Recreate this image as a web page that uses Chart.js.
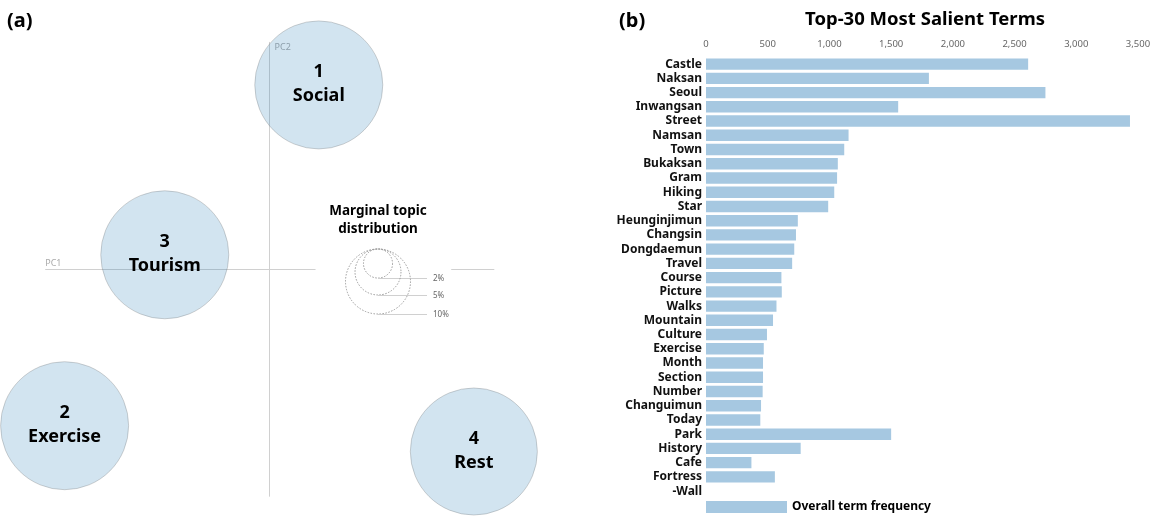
<!DOCTYPE html>
<html>
<head>
<meta charset="utf-8">
<script src="https://cdn.jsdelivr.net/npm/chart.js@4.4.0/dist/chart.umd.min.js"></script>
<style>
  html, body { margin: 0; padding: 0; background: #fff; }
  body { width: 1158px; height: 516px; position: relative; overflow: hidden; font-family: "Noto Sans", sans-serif; }
  #wrapA { position: absolute; left: 0; top: 0; width: 560px; height: 516px; }
  #wrapB { position: absolute; left: 600px; top: 0; width: 558px; height: 516px; }
  .panel { position: absolute; top: 6px; font-weight: bold; font-size: 20px; color: #000; }
</style>
</head>
<body>
<div id="wrapA"><canvas id="topicChart" width="560" height="516"></canvas></div>
<div id="wrapB"><canvas id="termChart" width="558" height="516"></canvas></div>
<div class="panel" style="left:7px">(a)</div>
<div class="panel" style="left:619px">(b)</div>
<script>
// ---- panel (a): intertopic distance map ----
const topicIds = ['1', '2', '3', '4'];
const topicNames = ['Social', 'Exercise', 'Tourism', 'Rest'];
const topicPC1 = [0.046, -0.190, -0.097, 0.190];
const topicPC2 = [0.171, -0.146, 0.013, -0.170];
const topicShare = [38.8, 38.8, 38.8, 38.2]; // marginal share (%) as drawn
const legendShares = [2, 5, 10];

// ---- panel (b): top-30 salient terms ----
const terms = ['Castle', 'Naksan', 'Seoul', 'Inwangsan', 'Street', 'Namsan', 'Town', 'Bukaksan',
  'Gram', 'Hiking', 'Star', 'Heunginjimun', 'Changsin', 'Dongdaemun', 'Travel', 'Course',
  'Picture', 'Walks', 'Mountain', 'Culture', 'Exercise', 'Month', 'Section', 'Number',
  'Changuimun', 'Today', 'Park', 'History', 'Cafe', 'Fortress-Wall'];
const termFreq = [2610, 1806, 2750, 1557, 3435, 1155, 1120, 1068,
  1062, 1039, 990, 744, 729, 715, 698, 611,
  614, 571, 543, 494, 468, 462, 462, 459,
  446, 440, 1500, 767, 368, 558];
const freqTicks = [0, 500, 1000, 1500, 2000, 2500, 3000, 3500];

const FONT = '"Noto Sans", sans-serif';
const barColor = '#a6c8e1';

// radius in px for a share in %, area proportional (10% -> 32.5px)
function shareToRadius(share) {
    return 32.5 * Math.sqrt(share / 10);
}

// wrap the hyphenated term so "Fortress" sits on the bar and "-Wall" below
function termLabel(t) {
    if (t.indexOf('-') > 0) {
        const parts = t.split('-');
        return ['', parts[0], '-' + parts[1]];
    }
    return t;
}

const topicDecor = {
    id: 'topicDecor',
    beforeDatasetsDraw(chart) {
        const ctx = chart.ctx;
        const x = chart.scales.x, y = chart.scales.y;
        const x0 = Math.round(x.getPixelForValue(0)) + 0.5;
        const y0 = Math.round(y.getPixelForValue(0)) + 0.5;
        ctx.save();
        ctx.strokeStyle = '#d0d0d0';
        ctx.lineWidth = 1;
        ctx.beginPath();
        // PC1 axis (broken where the size legend sits)
        ctx.moveTo(x.getPixelForValue(-0.208), y0);
        ctx.lineTo(x.getPixelForValue(0.043), y0);
        ctx.moveTo(x.getPixelForValue(0.169), y0);
        ctx.lineTo(x.getPixelForValue(0.209), y0);
        // PC2 axis
        ctx.moveTo(x0, y.getPixelForValue(0.211));
        ctx.lineTo(x0, y.getPixelForValue(-0.212));
        ctx.stroke();

        ctx.fillStyle = '#aaaaaa';
        ctx.font = '9px ' + FONT;
        ctx.textBaseline = 'middle';
        ctx.textAlign = 'left';
        ctx.fillText('PC1', x.getPixelForValue(-0.208), y0 - 6);
        ctx.fillText('PC2', x0 + 5, y.getPixelForValue(0.206));
        ctx.restore();
    },
    afterDatasetsDraw(chart) {
        const ctx = chart.ctx;
        const meta = chart.getDatasetMeta(0);
        ctx.save();
        ctx.fillStyle = '#000';
        ctx.textAlign = 'center';
        ctx.textBaseline = 'middle';
        ctx.font = 'bold 18px ' + FONT;
        meta.data.forEach(function(pt, i) {
            ctx.fillText(topicIds[i], pt.x, pt.y - 13);
            ctx.fillText(topicNames[i], pt.x, pt.y + 11);
        });

        // marginal topic distribution legend
        const cx = 378, top = 249;
        ctx.font = 'bold 13.5px ' + FONT;
        ctx.fillText('Marginal topic', cx, 211);
        ctx.fillText('distribution', cx, 229);
        ctx.font = '8px ' + FONT;
        ctx.textAlign = 'left';
        legendShares.forEach(function(s) {
            const r = shareToRadius(s);
            ctx.setLineDash([1.5, 1.5]);
            ctx.strokeStyle = '#999';
            ctx.beginPath();
            ctx.arc(cx, top + r, r, 0, Math.PI * 2);
            ctx.stroke();
            ctx.setLineDash([]);
            ctx.strokeStyle = '#d0d0d0';
            const yb = Math.round(top + 2 * r) + 0.5;
            ctx.beginPath();
            ctx.moveTo(cx, yb);
            ctx.lineTo(427, yb);
            ctx.stroke();
            ctx.fillStyle = '#666';
            ctx.fillText(s + '%', 433, yb);
        });
        ctx.restore();
    }
};

const termDecor = {
    id: 'termDecor',
    afterDraw(chart) {
        const ctx = chart.ctx;
        const area = chart.chartArea;
        ctx.save();
        ctx.fillStyle = '#000';
        ctx.textAlign = 'center';
        ctx.textBaseline = 'middle';
        ctx.font = 'bold 18.5px ' + FONT;
        ctx.fillText('Top-30 Most Salient Terms', (area.left + area.right) / 2 + 3, 20);

        // legend
        ctx.fillStyle = barColor;
        ctx.fillRect(area.left, 501, 81, 12);
        ctx.fillStyle = '#000';
        ctx.textAlign = 'left';
        ctx.font = 'bold 12px ' + FONT;
        ctx.fillText(chart.data.datasets[0].label, area.left + 86, 507);
        ctx.restore();
    }
};

new Chart(document.getElementById('topicChart').getContext('2d'), {
    type: 'bubble',
    data: {
        datasets: [{
            data: topicPC1.map(function(v, i) {
                return { x: v, y: topicPC2[i], r: shareToRadius(topicShare[i]) };
            }),
            backgroundColor: 'rgba(31,119,180,0.2)',
            borderColor: 'rgba(110,110,110,0.3)',
            borderWidth: 1,
            clip: false
        }]
    },
    options: {
        responsive: false,
        animation: false,
        layout: { padding: 0, autoPadding: false },
        plugins: { legend: { display: false }, tooltip: { enabled: false } },
        scales: {
            x: { display: false, min: -0.25, max: 0.27 },
            y: { display: false, min: -0.23, max: 0.25 }
        }
    },
    plugins: [topicDecor]
});

new Chart(document.getElementById('termChart').getContext('2d'), {
    type: 'bar',
    data: {
        labels: terms.map(termLabel),
        datasets: [{
            label: 'Overall term frequency',
            data: termFreq,
            backgroundColor: barColor,
            barPercentage: 0.8,
            categoryPercentage: 1
        }]
    },
    options: {
        indexAxis: 'y',
        responsive: false,
        animation: false,
        layout: { padding: { left: 0, right: 20, top: 0, bottom: 32 } },
        plugins: { legend: { display: false }, tooltip: { enabled: false } },
        scales: {
            x: {
                position: 'top',
                min: 0,
                max: 3500,
                grid: { display: false, drawTicks: false },
                border: { display: false },
                afterBuildTicks: function(s) { s.ticks = freqTicks.map(function(v) { return { value: v }; }); },
                ticks: {
                    color: '#666',
                    padding: 7,
                    font: { size: 9.5, family: FONT },
                    callback: function(v) { return v.toLocaleString('en-US'); }
                },
                afterFit: function(s) { s.height = 57; }
            },
            y: {
                grid: { display: false, drawTicks: false },
                border: { display: false },
                ticks: {
                    autoSkip: false,
                    color: '#111',
                    padding: 4,
                    font: { size: 12, weight: 'bold', family: FONT }
                },
                afterFit: function(s) { s.width = 106; }
            }
        }
    },
    plugins: [termDecor]
});
</script>
</body>
</html>
